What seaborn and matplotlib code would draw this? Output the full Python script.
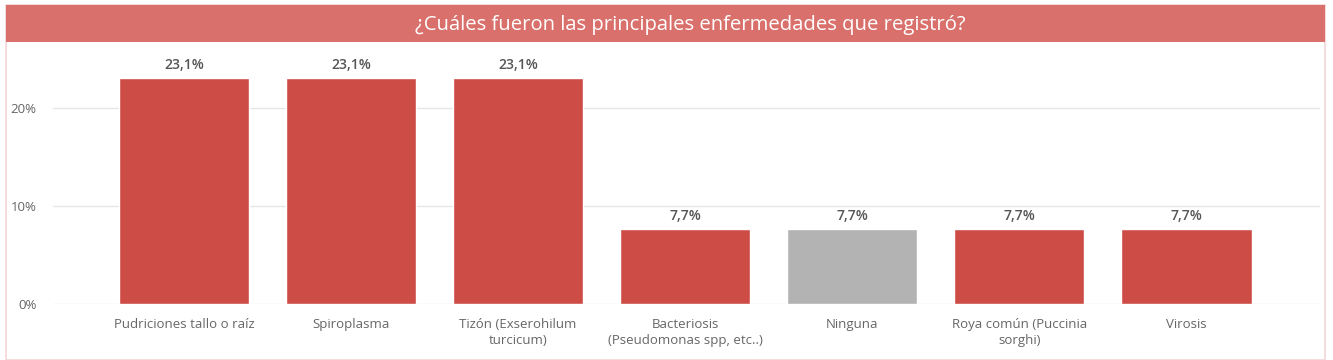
import matplotlib.pyplot as plt
import seaborn as sns
import pandas as pd
from matplotlib.patches import Rectangle

categorias = ['Pudriciones tallo o raíz', 'Spiroplasma', 'Tizón (Exserohilum\nturcicum)',
              'Bacteriosis\n(Pseudomonas spp, etc..)', 'Ninguna', 'Roya común (Puccinia\nsorghi)',
              'Virosis']
valores = [0.231, 0.231, 0.231, 0.077, 0.077, 0.077, 0.077]
etiquetas = ['23,1%', '23,1%', '23,1%', '7,7%', '7,7%', '7,7%', '7,7%']
colores = ['#CD4C46', '#CD4C46', '#CD4C46', '#CD4C46', '#B3B3B3', '#CD4C46', '#CD4C46']
yticks = [0, 0.1, 0.2]
ytick_labels = ['0%', '10%', '20%']

df = pd.DataFrame({'cat': categorias, 'val': valores})

sns.set_style('white')
plt.rcParams['font.family'] = ['Open Sans', 'DejaVu Sans']

W, H = 1333, 360
fig = plt.figure(figsize=(W / 100, H / 100), dpi=100)

# marco y banda del título
fig.patches.append(Rectangle((6 / W, 0), 1319 / W, (H - 5) / H, transform=fig.transFigure,
                             facecolor='white', edgecolor='#F2D5D5', lw=1.2, zorder=-2))
fig.patches.append(Rectangle((6 / W, (H - 42) / H), 1319 / W, 37 / H, transform=fig.transFigure,
                             facecolor='#D9706B', edgecolor='none', zorder=-1))
fig.text(690 / W, (H - 25) / H, '¿Cuáles fueron las principales enfermedades que registró?',
         ha='center', va='center', color='white', fontsize=14.6)

ymax = 0.26
top_px = 304 - ymax * 980
ax = fig.add_axes([53 / W, 56 / H, (1320 - 53) / W, (304 - top_px) / H])
ax.patch.set_alpha(0)
sns.barplot(data=df, x='cat', y='val', hue='cat', palette=colores, legend=False,
            width=0.78, saturation=1, ax=ax, zorder=2)
ax.set_xlim(-0.784, 6.80)
ax.set_ylim(0, ymax)
ax.set_yticks(yticks)
ax.set_yticklabels(ytick_labels)
ax.yaxis.grid(True, color='#E6E6E6', lw=1)
ax.set_axisbelow(True)
for s in ax.spines.values():
    s.set_visible(False)
ax.set_xlabel('')
ax.set_ylabel('')
ax.tick_params(axis='y', length=0, pad=12, labelsize=9.5, labelcolor='#666666')
ax.tick_params(axis='x', length=0, pad=10, labelsize=9.5, labelcolor='#666666')
for lab in ax.get_xticklabels():
    lab.set_linespacing(1.35)

for i, (v, t) in enumerate(zip(valores, etiquetas)):
    ax.annotate(t, (i, v), xytext=(0, 4), textcoords='offset points', ha='center',
                va='bottom', fontsize=10, color='#555555', fontweight='semibold')

fig.savefig('out.png', dpi=100)
